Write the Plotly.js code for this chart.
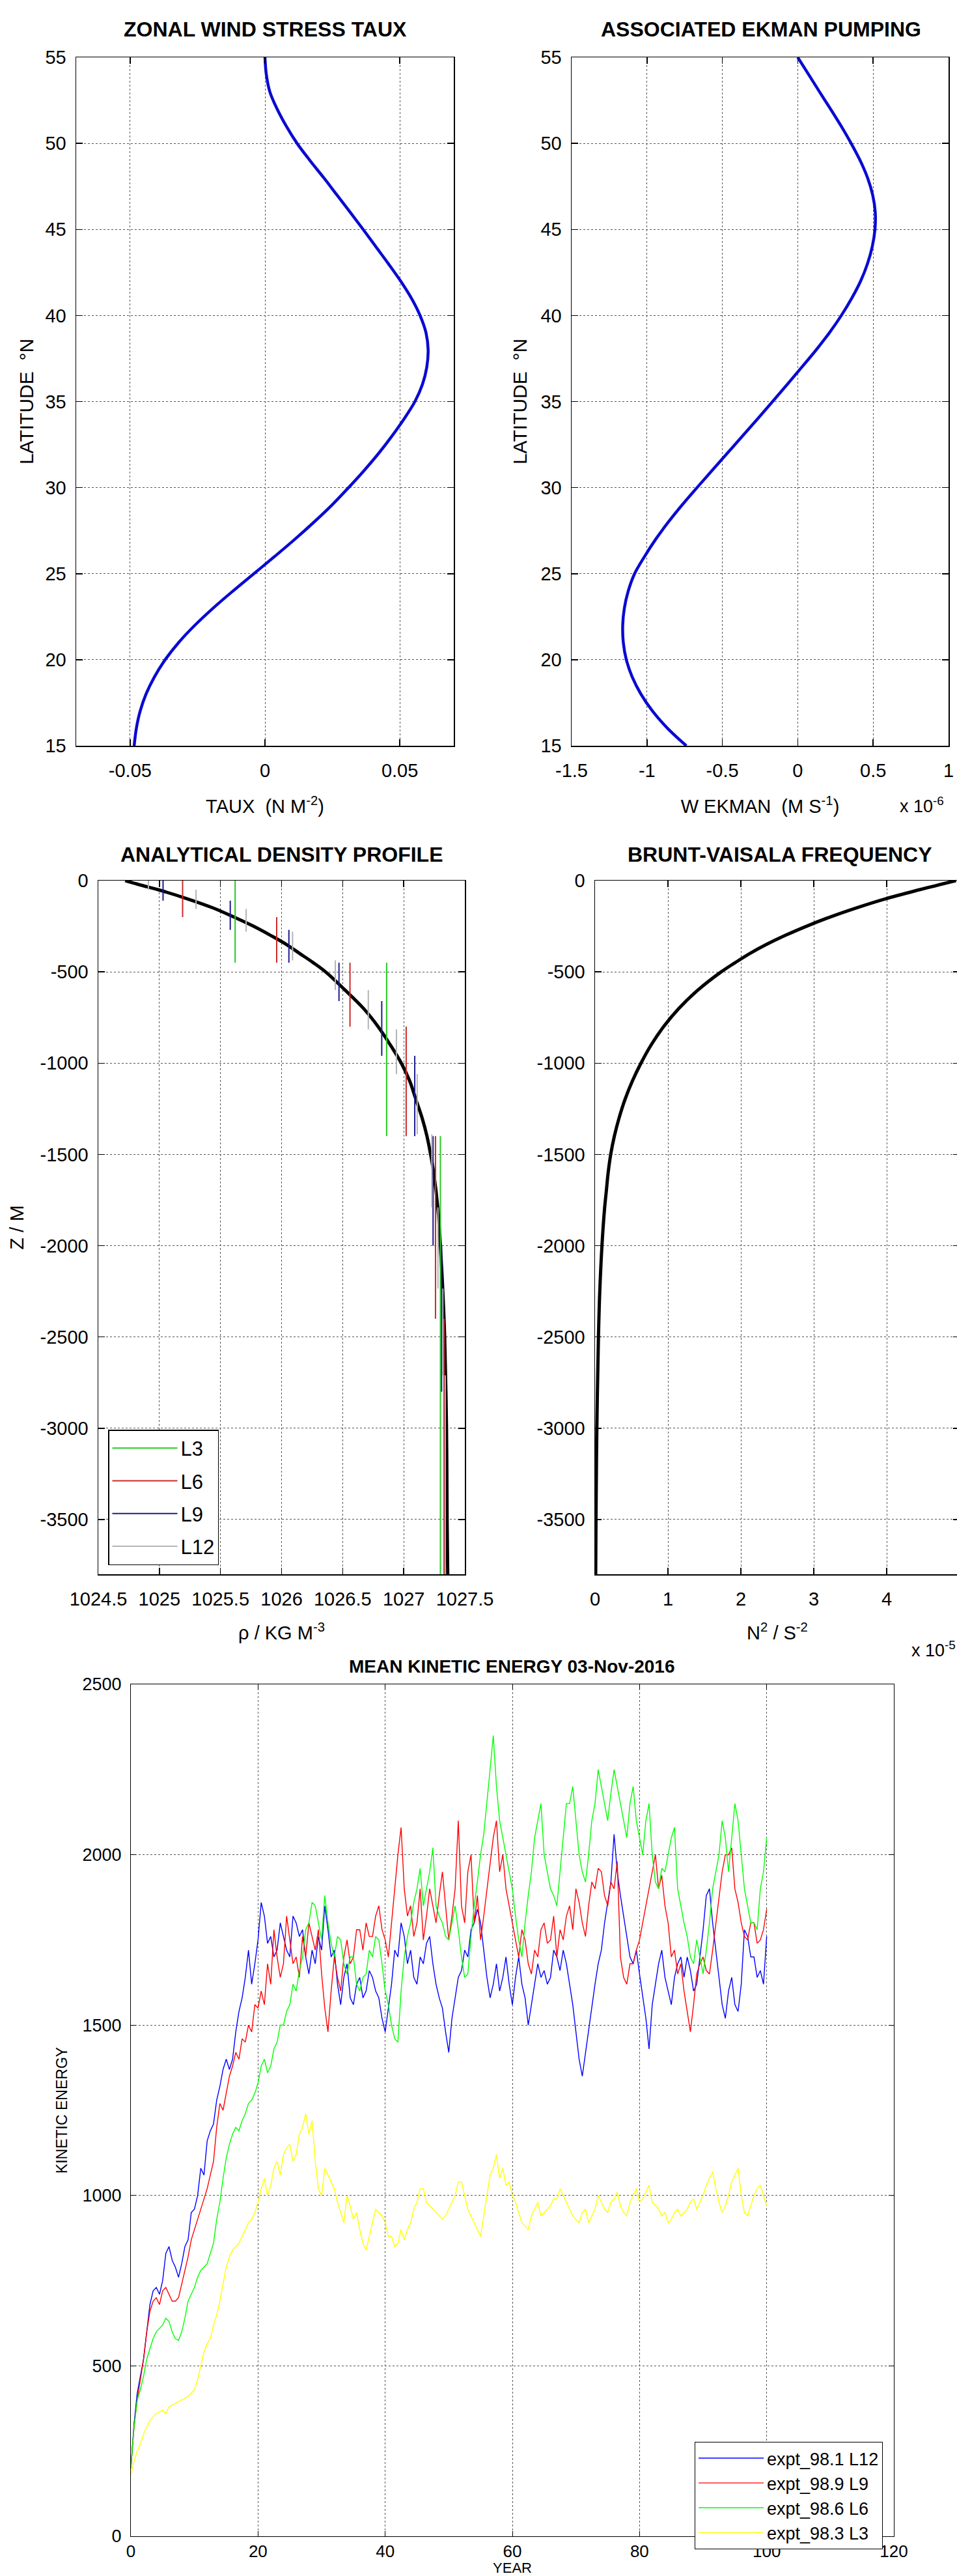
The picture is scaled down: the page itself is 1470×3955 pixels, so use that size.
<!DOCTYPE html>
<html><head><meta charset="utf-8">
<script src="https://cdn.plot.ly/plotly-3.0.1.min.js"></script>
<style>html,body{margin:0;padding:0;overflow:hidden;background:#fff;}</style>
</head><body><div id="chart" style="width:1480px;height:3955px;"></div>
<script>
// ---------- Panel 1 & 2: wind stress and Ekman pumping vs latitude ----------
const LAT = [15,16,17,18,19,20,21,22,23,24,25,26,27,28,29,30,31,32,33,34,35,36,37,38,39,40,41,42,43,44,45,46,47,48,49,50,51,52,53,54,55];
const TAUX = [-0.0485,-0.0477,-0.0463,-0.0441,-0.0410,-0.0370,-0.0320,-0.0260,-0.0192,-0.0118,-0.0041,0.0036,0.0111,0.0182,0.0249,0.0310,0.0368,0.0422,0.0471,0.0516,0.0556,0.0584,0.0600,0.0605,0.0597,0.0575,0.0543,0.0503,0.0458,0.0411,0.0364,0.0316,0.0267,0.0218,0.0167,0.0119,0.0079,0.0045,0.0018,0.0005,0.0000];
const WEKMAN_E6 = [-0.739,-0.862,-0.962,-1.040,-1.098,-1.137,-1.157,-1.161,-1.150,-1.124,-1.082,-1.016,-0.942,-0.858,-0.766,-0.668,-0.568,-0.467,-0.366,-0.266,-0.167,-0.069,0.027,0.122,0.210,0.289,0.358,0.417,0.462,0.494,0.512,0.514,0.497,0.463,0.414,0.354,0.288,0.217,0.144,0.072,0.000];
const TAUX_TICKS = [-0.05,0,0.05];
const WEK_TICKS = [-1.5,-1,-0.5,0,0.5,1];
const LAT_TICKS = [15,20,25,30,35,40,45,50,55];

// ---------- Panel 3: analytical density profile ----------
const RHO_Z = [0,-25,-50,-100,-150,-200,-250,-300,-350,-400,-450,-500,-600,-700,-800,-900,-1000,-1100,-1200,-1300,-1400,-1500,-1600,-1800,-2000,-2250,-2500,-3000,-3500,-3800];
const RHO = [1024.72,1024.85,1024.99,1025.23,1025.44,1025.61,1025.77,1025.91,1026.04,1026.15,1026.26,1026.36,1026.52,1026.67,1026.79,1026.89,1026.98,1027.05,1027.10,1027.15,1027.19,1027.22,1027.245,1027.28,1027.30,1027.32,1027.335,1027.35,1027.355,1027.36];
const L3_RHO = [1025.62,1026.86,1027.30];
const L3_TOP = [0,-450,-1400];
const L3_BOT = [-450,-1400,-3800];
const L6_RHO = [1025.19,1025.96,1026.56,1027.02,1027.26,1027.33];
const L6_TOP = [0,-200,-450,-800,-1400,-2400];
const L6_BOT = [-200,-450,-800,-1400,-2400,-3800];
const L9_RHO = [1025.03,1025.58,1026.06,1026.47,1026.82,1027.09,1027.24,1027.31,1027.34];
const L9_TOP = [0,-110,-270,-450,-660,-960,-1400,-2000,-2800];
const L9_BOT = [-110,-270,-450,-660,-960,-1400,-2000,-2800,-3800];
const L12_RHO = [1024.91,1025.30,1025.71,1026.09,1026.44,1026.71,1026.94,1027.11,1027.23,1027.28,1027.32,1027.34];
const L12_TOP = [0,-50,-155,-280,-437,-600,-815,-1060,-1390,-1790,-2235,-2710];
const L12_BOT = [-50,-155,-280,-437,-600,-815,-1060,-1390,-1790,-2235,-2710,-3800];
const RHO_TICKS = [1024.5,1025,1025.5,1026,1026.5,1027,1027.5];
const Z_TICKS = [0,-500,-1000,-1500,-2000,-2500,-3000,-3500];

// ---------- Panel 4: Brunt-Vaisala frequency (x 1e-5) ----------
const N2_Z = [0,-50,-100,-150,-200,-250,-300,-350,-400,-450,-500,-600,-700,-800,-900,-1000,-1100,-1200,-1300,-1400,-1500,-1600,-1700,-1800,-2000,-2250,-2500,-3000,-3500,-3800];
const N2_E5 = [4.95,4.45,3.98,3.58,3.22,2.90,2.61,2.35,2.12,1.92,1.73,1.41,1.15,0.94,0.77,0.63,0.51,0.41,0.33,0.265,0.215,0.18,0.155,0.13,0.095,0.065,0.047,0.025,0.013,0.009];
const N2_TICKS = [0,1,2,3,4,5];

// ---------- Panel 5: mean kinetic energy ----------
const YEARS = [0,0.5,1,1.5,2,2.5,3,3.5,4,4.5,5,5.5,6,6.5,7,7.5,8,8.5,9,9.5,
10,10.5,11,11.5,12,12.5,13,13.5,14,14.5,15,15.5,16,16.5,17,17.5,18,18.5,19,19.5,
20,20.5,21,21.5,22,22.5,23,23.5,24,24.5,25,25.5,26,26.5,27,27.5,28,28.5,29,29.5,
30,30.5,31,31.5,32,32.5,33,33.5,34,34.5,35,35.5,36,36.5,37,37.5,38,38.5,39,39.5,
40,40.5,41,41.5,42,42.5,43,43.5,44,44.5,45,45.5,46,46.5,47,47.5,48,48.5,49,49.5,
50,50.5,51,51.5,52,52.5,53,53.5,54,54.5,55,55.5,56,56.5,57,57.5,58,58.5,59,59.5,
60,60.5,61,61.5,62,62.5,63,63.5,64,64.5,65,65.5,66,66.5,67,67.5,68,68.5,69,69.5,
70,70.5,71,71.5,72,72.5,73,73.5,74,74.5,75,75.5,76,76.5,77,77.5,78,78.5,79,79.5,
80,80.5,81,81.5,82,82.5,83,83.5,84,84.5,85,85.5,86,86.5,87,87.5,88,88.5,89,89.5,
90,90.5,91,91.5,92,92.5,93,93.5,94,94.5,95,95.5,96,96.5,97,97.5,98,98.5,99,99.5,100];
const KE_L12 = [200,330,420,470,520,600,680,720,730,710,750,830,850,810,790,760,800,850,870,950,
960,1000,1080,1060,1160,1190,1210,1280,1320,1370,1400,1370,1400,1480,1540,1580,1640,1720,1620,1680,
1750,1860,1820,1740,1760,1700,1720,1800,1760,1720,1700,1820,1800,1760,1780,1700,1650,1720,1680,1760,
1720,1850,1780,1700,1720,1620,1560,1640,1680,1580,1560,1620,1640,1580,1600,1660,1640,1600,1580,1520,
1480,1550,1620,1720,1700,1800,1760,1680,1720,1640,1620,1700,1680,1740,1760,1680,1620,1580,1550,1480,
1420,1520,1580,1640,1660,1720,1700,1780,1800,1840,1800,1720,1640,1580,1620,1680,1600,1640,1700,1620,
1560,1640,1700,1620,1580,1500,1560,1620,1680,1640,1660,1620,1640,1720,1700,1660,1720,1680,1620,1560,
1480,1400,1350,1420,1480,1560,1620,1680,1720,1800,1860,1920,2060,1950,1880,1820,1760,1700,1680,1720,
1650,1580,1520,1430,1560,1620,1680,1720,1640,1600,1560,1640,1680,1700,1640,1700,1660,1600,1620,1700,
1780,1880,1900,1800,1720,1640,1560,1520,1600,1640,1560,1540,1620,1780,1760,1700,1700,1640,1660,1620,1760];
const KE_L9 = [200,320,400,460,520,600,660,690,700,680,720,730,710,690,690,700,740,780,820,870,
900,930,960,990,1020,1060,1100,1200,1270,1250,1300,1350,1380,1420,1400,1460,1450,1500,1480,1560,
1550,1600,1560,1680,1620,1780,1700,1640,1680,1820,1750,1680,1700,1640,1760,1700,1800,1760,1720,1780,
1650,1550,1480,1600,1700,1640,1600,1700,1750,1680,1700,1780,1780,1720,1800,1760,1760,1820,1850,1780,
1750,1700,1800,1900,2000,2080,1900,1820,1850,1760,1800,1900,1750,1820,1900,1850,1800,1880,1950,1850,
1750,1820,1900,2100,1850,1800,1950,2000,1800,1880,1750,1820,1900,1980,2050,2100,1950,2000,1900,1850,
1800,1750,1700,1780,1750,1680,1650,1720,1700,1780,1800,1740,1750,1820,1700,1780,1750,1820,1850,1780,
1900,1860,1800,1760,1850,1920,1900,1960,1950,1880,1850,1920,1900,1980,1700,1640,1620,1680,1680,1720,
1750,1800,1850,1900,1950,2000,1900,1940,1850,1800,1700,1720,1650,1680,1600,1540,1480,1560,1650,1680,
1700,1660,1650,1720,1800,1880,1950,2000,2000,2020,1900,1860,1800,1760,1750,1800,1800,1740,1750,1780,1840];
const KE_L6 = [200,320,400,430,470,520,550,580,600,610,620,640,630,600,580,575,600,640,690,710,
730,760,780,790,800,830,860,930,980,1050,1110,1150,1180,1200,1190,1220,1240,1270,1280,1300,
1330,1380,1400,1360,1380,1430,1450,1500,1500,1540,1560,1620,1600,1660,1700,1780,1800,1860,1850,1800,
1750,1880,1800,1740,1700,1760,1750,1680,1650,1700,1700,1620,1600,1640,1650,1720,1700,1760,1750,1680,
1600,1560,1500,1460,1450,1600,1700,1760,1800,1860,1900,1960,1850,1900,1950,2020,1850,1820,1800,1760,
1750,1800,1850,1780,1700,1640,1650,1760,1850,1920,2000,2060,2150,2250,2350,2200,2100,2050,2000,1950,
1900,1820,1750,1700,1800,1880,1950,2050,2100,2150,2000,1950,1900,1880,1850,1950,2050,2150,2150,2200,
2100,2000,1950,1920,2000,2100,2150,2250,2200,2150,2100,2180,2250,2200,2150,2100,2050,2150,2200,2100,
2050,2000,2100,2150,2000,1920,1900,1960,1950,2000,2050,2080,1900,1850,1800,1760,1700,1680,1750,1700,
1650,1720,1800,1900,1950,2000,2100,2050,1950,2050,2150,2100,2000,1900,1850,1800,1800,1780,1900,1950,2050];
const KE_L3 = [180,220,250,270,300,320,340,350,360,365,370,360,380,385,390,395,400,405,410,420,
430,460,500,540,565,580,620,650,690,740,790,820,840,850,860,880,900,920,930,950,
980,1020,1050,1000,1030,1080,1100,1060,1120,1140,1150,1100,1120,1180,1200,1240,1180,1220,1100,1020,
1000,1080,1060,1040,1020,980,950,920,1000,970,930,950,900,860,840,880,920,960,950,940,
920,880,880,850,860,900,870,900,920,960,980,1020,1020,980,970,960,950,940,930,940,
960,980,1000,1040,1040,1000,960,940,920,900,880,940,1000,1060,1080,1120,1050,1080,1030,1040,
1000,980,950,920,910,900,940,960,980,940,950,960,970,990,990,1020,1000,980,960,940,
930,920,950,960,920,940,960,1000,980,960,950,980,990,1010,970,950,940,980,1000,1020,
980,990,1010,1030,980,970,960,940,950,920,930,950,960,940,950,960,980,990,960,980,
1000,1030,1050,1070,1020,980,950,970,1000,1040,1060,1080,1000,950,940,970,1000,1020,1030,1000,970];
const YEAR_TICKS = [0,20,40,60,80,100,120];
const KE_TICKS = [0,500,1000,1500,2000,2500];

// ---------- layout helpers ----------
const W = 1480, H = 3955;
const F = 'Liberation Sans, Arial, Helvetica, sans-serif';
const px = v => v / W;
const py = v => 1 - v / H;
function ax(extra) {
  return Object.assign({
    showline: true, linecolor: '#000', linewidth: 1.5, mirror: 'ticks',
    ticks: 'inside', ticklen: 10, tickwidth: 1.5, tickcolor: '#000',
    showgrid: true, gridcolor: '#555', gridwidth: 1, griddash: 'dot',
    zeroline: false, automargin: false, fixedrange: true,
    tickfont: {family: F, size: 29, color: '#000'}, tickmode: 'array'
  }, extra);
}
const lbl = arr => arr.map(v => String(v));
function segs(rho, top, bot) {
  const x = [], y = [];
  rho.forEach((r, i) => { x.push(r, r, null); y.push(top[i], bot[i], null); });
  return {x, y};
}
const s3 = segs(L3_RHO, L3_TOP, L3_BOT), s6 = segs(L6_RHO, L6_TOP, L6_BOT),
      s9 = segs(L9_RHO, L9_TOP, L9_BOT), s12 = segs(L12_RHO, L12_TOP, L12_BOT);

const traces = [
  {x: TAUX, y: LAT, xaxis: 'x', yaxis: 'y', mode: 'lines', line: {color: '#0a0ad2', width: 4.5, shape: 'spline'}, showlegend: false},
  {x: WEKMAN_E6, y: LAT, xaxis: 'x2', yaxis: 'y2', mode: 'lines', line: {color: '#0a0ad2', width: 4.5, shape: 'spline'}, showlegend: false},
  {x: RHO, y: RHO_Z, xaxis: 'x3', yaxis: 'y3', mode: 'lines', line: {color: '#000', width: 5, shape: 'spline'}, showlegend: false},
  {x: s3.x, y: s3.y, xaxis: 'x3', yaxis: 'y3', mode: 'lines', name: 'L3', line: {color: '#22cc22', width: 2}, legend: 'legend', legendgroup: 'g3'},
  {x: s6.x, y: s6.y, xaxis: 'x3', yaxis: 'y3', mode: 'lines', name: 'L6', line: {color: '#cc2a2a', width: 2}, legend: 'legend', legendgroup: 'g6'},
  {x: s9.x, y: s9.y, xaxis: 'x3', yaxis: 'y3', mode: 'lines', name: 'L9', line: {color: '#1c1c90', width: 2}, legend: 'legend', legendgroup: 'g9'},
  {x: s12.x, y: s12.y, xaxis: 'x3', yaxis: 'y3', mode: 'lines', name: 'L12', line: {color: '#b4b4b4', width: 2}, legend: 'legend', legendgroup: 'g12'},
  {x: N2_E5, y: N2_Z, xaxis: 'x4', yaxis: 'y4', mode: 'lines', line: {color: '#000', width: 5, shape: 'spline'}, showlegend: false},
  {x: YEARS, y: KE_L12, xaxis: 'x5', yaxis: 'y5', mode: 'lines', name: 'expt_98.1 L12', line: {color: '#0000ff', width: 1.4}, legend: 'legend2'},
  {x: YEARS, y: KE_L9, xaxis: 'x5', yaxis: 'y5', mode: 'lines', name: 'expt_98.9 L9', line: {color: '#ff0000', width: 1.4}, legend: 'legend2'},
  {x: YEARS, y: KE_L6, xaxis: 'x5', yaxis: 'y5', mode: 'lines', name: 'expt_98.6 L6', line: {color: '#00ff00', width: 1.4}, legend: 'legend2'},
  {x: YEARS, y: KE_L3, xaxis: 'x5', yaxis: 'y5', mode: 'lines', name: 'expt_98.3 L3', line: {color: '#ffff00', width: 1.4}, legend: 'legend2'}
];

const titleFont = s => ({family: F, size: s, color: '#000'});
const layout = {
  width: W, height: H, margin: {l: 0, r: 0, t: 0, b: 0},
  paper_bgcolor: '#fff', plot_bgcolor: '#fff',
  xaxis: ax({domain: [px(117), px(697)], range: [-0.07, 0.07], tickvals: TAUX_TICKS, ticktext: lbl(TAUX_TICKS), anchor: 'y', ticklabelstandoff: 12,
    title: {text: 'TAUX  (N M<sup>-2</sup>)', font: titleFont(29), standoff: 29}}),
  yaxis: ax({domain: [py(1145), py(88)], range: [15, 55], tickvals: LAT_TICKS, ticktext: lbl(LAT_TICKS), anchor: 'x', ticklabelstandoff: 8,
    title: {text: 'LATITUDE  °N', font: titleFont(30), standoff: 9}}),
  xaxis2: ax({domain: [px(878), px(1457)], range: [-1.5, 1], tickvals: WEK_TICKS, ticktext: lbl(WEK_TICKS), anchor: 'y2', ticklabelstandoff: 12,
    title: {text: 'W EKMAN  (M S<sup>-1</sup>)', font: titleFont(29), standoff: 29}}),
  yaxis2: ax({domain: [py(1145), py(88)], range: [15, 55], tickvals: LAT_TICKS, ticktext: lbl(LAT_TICKS), anchor: 'x2', ticklabelstandoff: 8,
    title: {text: 'LATITUDE  °N', font: titleFont(30), standoff: 12}}),
  xaxis3: ax({domain: [px(151), px(714)], range: [1024.5, 1027.5], tickvals: RHO_TICKS, ticktext: lbl(RHO_TICKS), anchor: 'y3', ticklabelstandoff: 12,
    title: {text: 'ρ / KG M<sup>-3</sup>', font: titleFont(29), standoff: 26}}),
  yaxis3: ax({domain: [py(2417), py(1352)], range: [-3800, 0], tickvals: Z_TICKS, ticktext: lbl(Z_TICKS), anchor: 'x3', ticklabelstandoff: 8,
    title: {text: 'Z / M', font: titleFont(30), standoff: 16}}),
  xaxis4: ax({domain: [px(914), px(1474)], range: [0, 5], tickvals: N2_TICKS, ticktext: lbl(N2_TICKS), anchor: 'y4', ticklabelstandoff: 12,
    title: {text: 'N<sup>2</sup> / S<sup>-2</sup>', font: titleFont(29), standoff: 26}}),
  yaxis4: ax({domain: [py(2417), py(1352)], range: [-3800, 0], tickvals: Z_TICKS, ticktext: lbl(Z_TICKS), anchor: 'x4', ticklabelstandoff: 8}),
  xaxis5: ax({domain: [px(201), px(1373)], range: [0, 120], tickvals: YEAR_TICKS, ticktext: lbl(YEAR_TICKS), anchor: 'y5', ticklabelstandoff: 0,
    tickfont: {family: F, size: 26, color: '#000'}, linewidth: 1, tickwidth: 1, ticklen: 8,
    title: {text: 'YEAR', font: titleFont(22), standoff: 6}}),
  yaxis5: ax({domain: [py(3894), py(2586)], range: [0, 2500], tickvals: KE_TICKS, ticktext: lbl(KE_TICKS), anchor: 'x5', ticklabelstandoff: 8,
    tickfont: {family: F, size: 27, color: '#000'}, linewidth: 1, tickwidth: 1, ticklen: 8,
    title: {text: 'KINETIC ENERGY', font: titleFont(23), standoff: 16}}),
  legend: {x: px(166), y: py(2195), xanchor: 'left', yanchor: 'top', bgcolor: '#fff', bordercolor: '#000', borderwidth: 1.5,
    font: {family: F, size: 31, color: '#000'}, itemwidth: 100, tracegroupgap: 7, traceorder: 'grouped', itemclick: false, itemdoubleclick: false},
  legend2: {x: px(1067), y: py(3749), xanchor: 'left', yanchor: 'top', bgcolor: '#fff', bordercolor: '#000', borderwidth: 1,
    font: {family: F, size: 27, color: '#000'}, itemwidth: 100, itemclick: false, itemdoubleclick: false},
  annotations: [
    {text: '<b>ZONAL WIND STRESS TAUX</b>', x: px(407), y: py(45), xref: 'paper', yref: 'paper', showarrow: false, xanchor: 'center', yanchor: 'middle', font: titleFont(32)},
    {text: '<b>ASSOCIATED EKMAN PUMPING</b>', x: px(1169), y: py(45), xref: 'paper', yref: 'paper', showarrow: false, xanchor: 'center', yanchor: 'middle', font: titleFont(32)},
    {text: '<b>ANALYTICAL DENSITY PROFILE</b>', x: px(432), y: py(1312), xref: 'paper', yref: 'paper', showarrow: false, xanchor: 'center', yanchor: 'middle', font: titleFont(32)},
    {text: '<b>BRUNT-VAISALA FREQUENCY</b>', x: px(1198), y: py(1312), xref: 'paper', yref: 'paper', showarrow: false, xanchor: 'center', yanchor: 'middle', font: titleFont(32)},
    {text: '<b>MEAN KINETIC ENERGY 03-Nov-2016</b>', x: px(787), y: py(2558), xref: 'paper', yref: 'paper', showarrow: false, xanchor: 'center', yanchor: 'middle', font: titleFont(28)},
    {text: 'x 10<sup>-6</sup>', x: px(1380), y: py(1236), xref: 'paper', yref: 'paper', showarrow: false, xanchor: 'left', yanchor: 'middle', font: titleFont(27)},
    {text: 'x 10<sup>-5</sup>', x: px(1398), y: py(2532), xref: 'paper', yref: 'paper', showarrow: false, xanchor: 'left', yanchor: 'middle', font: titleFont(27)}
  ]
};

Plotly.newPlot('chart', traces, layout, {displayModeBar: false, staticPlot: true});
</script>
</body></html>
